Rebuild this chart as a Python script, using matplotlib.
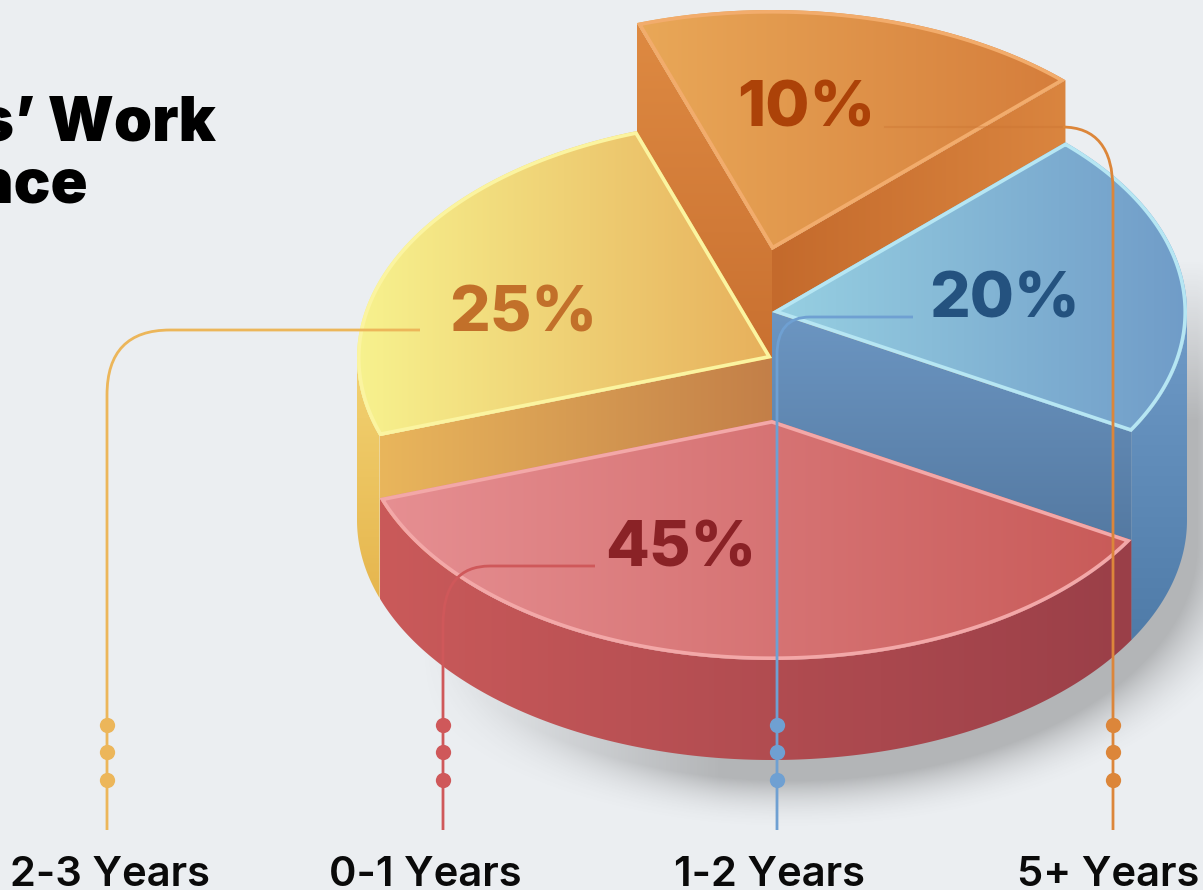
#!/usr/bin/env python3

import numpy as np
import matplotlib
matplotlib.use("Agg")
import matplotlib.pyplot as plt
from matplotlib.colors import LinearSegmentedColormap
from matplotlib.patches import Polygon, PathPatch
from matplotlib.path import Path

# data
labels = ["0-1 Years", "2-3 Years", "5+ Years", "1-2 Years"]
shares = [45, 25, 10, 20]
# the artwork does not draw sweeps in proportion to the shares
sweep_deg = [131, 90, 64, 75]
slice_height = [100, 162, 270, 208]

BG = "#ebeef1"
CX, BASE_Y, A, B = 772, 520, 415, 240
START = 30

colors = {
    "0-1 Years": dict(top=["#e68f92", "#c85a58"], rim="#f3a8a8", side=["#ca5a5a", "#9a3f48"],
                      face=None, text="#8a2226", line="#cf585a"),
    "2-3 Years": dict(top=["#f7f28e", "#e7b05c"], rim="#fbf4a0", side=["#f2d272", "#e6b64e"],
                      face=["#e9b65c", "#c37f48"], text="#c2702a", line="#ecb65a"),
    "5+ Years": dict(top=["#e9a858", "#d57d3b"], rim="#f2ac6c", side=None,
                     face=["#de8a42", "#bf6428"], text="#ac4208", line="#dc863a"),
    "1-2 Years": dict(top=["#97d0e2", "#709cc8"], rim="#b6e6f3", side=["#6f9bc8", "#4f7ba8"],
                      face=["#6c96c2", "#4a6d94"], text="#24527f", line="#6fa0d2"),
}

fig = plt.figure(figsize=(12.03, 8.90), dpi=100, facecolor=BG)
ax = fig.add_axes([0, 0, 1, 1])
ax.set_xlim(0, 1203)
ax.set_ylim(890, 0)
ax.axis("off")


def rim(t, h):
    t = np.radians(t)
    return np.column_stack([CX + A * np.cos(t), BASE_Y - h + B * np.sin(t)])


def gradient_fill(pts, stops, vertical=False):
    poly = Polygon(pts, closed=True, fc="none", ec="none", transform=ax.transData)
    ax.add_patch(poly)
    cmap = LinearSegmentedColormap.from_list("g", stops)
    g = np.linspace(0, 1, 256)
    g = g[:, None] if vertical else g[None, :]
    x0, y0 = pts.min(axis=0)
    x1, y1 = pts.max(axis=0)
    im = ax.imshow(g, cmap=cmap, extent=(x0, x1, y1, y0), aspect="auto", interpolation="bilinear",
                   zorder=poly.get_zorder())
    im.set_clip_path(poly)
    ax.set_xlim(0, 1203)
    ax.set_ylim(890, 0)
    return poly


# soft shadow, only to the right of and below the stack
yy, xx = np.mgrid[0:890, 0:1203]
dy = np.maximum(yy - 545.0, 0)
f = np.sqrt(((xx - 790.0) / 415.0) ** 2 + (dy / 240.0) ** 2)
shade = np.clip((1.19 - f) / 0.21, 0, 1) ** 2 * 0.34
shade *= np.clip((xx - 420.0) / 300.0, 0, 1) * np.clip((yy - 260.0) / 160.0, 0, 1)
rgba = np.zeros(shade.shape + (4,))
rgba[..., :3] = 0.28
rgba[..., 3] = shade
ax.imshow(rgba, extent=(0, 1203, 890, 0), aspect="auto", zorder=0)

# slices back to front: orange, yellow, blue, red
edges = START + np.concatenate([[0], np.cumsum(sweep_deg)])
for i in [2, 1, 3, 0]:
    name = labels[i]
    c = colors[name]
    h = slice_height[i]
    t0, t1 = edges[i], edges[i + 1]
    apex = np.array([[CX, BASE_Y - h]])
    apex_low = np.array([[CX, BASE_Y]])

    # radial walls that face the viewer
    if name == "5+ Years":
        p = rim(np.array([t0]), h)
        q = rim(np.array([t0]), 0)
        gradient_fill(np.vstack([p, apex, apex_low, q]), c["face"], vertical=True)
        p = rim(np.array([t1]), h)
        q = rim(np.array([t1]), 0)
        gradient_fill(np.vstack([apex, p, q, apex_low]), ["#c46a2c", "#da853f"])
    elif name == "2-3 Years":
        p = rim(np.array([t0]), h)
        q = rim(np.array([t0]), 0)
        gradient_fill(np.vstack([p, apex, apex_low, q]), c["face"])
    elif name == "1-2 Years":
        p = rim(np.array([t1]), h)
        q = rim(np.array([t1]), 0)
        gradient_fill(np.vstack([apex, p, q, apex_low]), c["face"], vertical=True)

    # outer wall, only where the rim runs along the front
    if c["side"] is not None:
        ts = np.linspace(t0, t1, 200)
        ts = ts[np.sin(np.radians(ts)) >= 0]
        if len(ts) > 1:
            wall = np.vstack([rim(ts, h), rim(ts[::-1], 0)])
            gradient_fill(wall, c["side"], vertical=name != "0-1 Years")

    # top face, its light rim stays inside the shape
    top = np.vstack([apex, rim(np.linspace(t0, t1, 200), h)])
    poly = gradient_fill(top, c["top"])
    edge = Polygon(top, closed=True, fc="none", ec=c["rim"], lw=5.2, zorder=2)
    ax.add_patch(edge)
    edge.set_clip_path(poly)

# share labels
share_xy = {"0-1 Years": (681, 550), "2-3 Years": (523, 315), "5+ Years": (806, 110), "1-2 Years": (1005, 301)}
for name, s in zip(labels, shares):
    x, y = share_xy[name]
    ax.text(x, y, f"{s}%", color=colors[name]["text"], fontsize=46, fontweight=800, family="Inter",
            ha="center", va="center", zorder=5)

# leader lines and dots
M, L, C = Path.MOVETO, Path.LINETO, Path.CURVE3
leaders = {
    "2-3 Years": ([(420, 330), (170, 330), (107, 330), (107, 395), (107, 830)], [M, L, C, C, L]),
    "0-1 Years": ([(595, 566), (490, 566), (443, 566), (443, 625), (443, 830)], [M, L, C, C, L]),
    "1-2 Years": ([(913, 317), (810, 317), (777, 317), (777, 355), (777, 830)], [M, L, C, C, L]),
    "5+ Years": ([(1062, 127), (1113, 127), (1113, 190), (1113, 830)], [M, C, C, L]),
}
text_x = {"2-3 Years": 110, "0-1 Years": 425, "1-2 Years": 770, "5+ Years": 1108}
for name, (verts, codes) in leaders.items():
    col = colors[name]["line"]
    ax.add_patch(PathPatch(Path(verts, codes), fc="none", ec=col, lw=2.0, zorder=4, capstyle="butt"))
    x = verts[-1][0]
    ax.plot([x, x, x], [725, 752, 780], "o", ms=11, mfc=col, mec="none", zorder=4)
    ax.text(text_x[name], 886, name, fontsize=30, fontweight="semibold", family="Inter", color="#0a0a0a",
            ha="center", va="baseline", zorder=5)
# the start of the orange leader barely shows on the orange slice
ax.plot([885, 1062], [127, 127], color="#c8702e", lw=1.6, alpha=0.3, zorder=4)

# title runs off the left edge of the canvas
ax.text(216, 141, "Employees’ Work", fontsize=44, fontweight="black", family="Inter", color="black",
        ha="right", va="baseline")
ax.text(88, 203, "Experience", fontsize=44, fontweight="black", family="Inter", color="black",
        ha="right", va="baseline")

fig.savefig("out.png", dpi=100, facecolor=BG)
